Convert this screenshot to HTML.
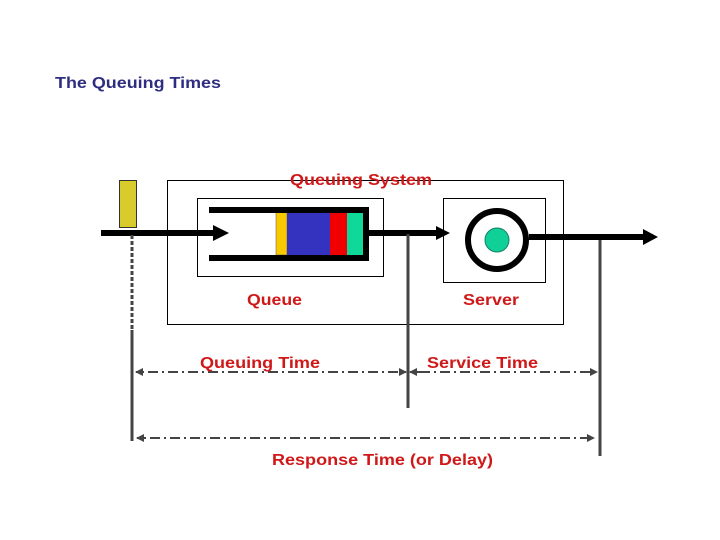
<!DOCTYPE html>
<html><head><meta charset="utf-8"><style>
html,body{margin:0;padding:0;background:#fff;}
svg{display:block;}
text{font-family:"Liberation Sans",Arial,sans-serif;font-weight:bold;}
</style></head><body>
<svg width="720" height="540" viewBox="0 0 720 540" xmlns="http://www.w3.org/2000/svg">
<defs>
<marker id="a" markerWidth="8" markerHeight="8" refX="7" refY="4" orient="auto" markerUnits="userSpaceOnUse"><path d="M0,0 L8,4 L0,8 Z" fill="#444"/></marker>
</defs>
<text x="55" y="88" font-size="16" fill="#2e2e80" textLength="166" lengthAdjust="spacingAndGlyphs">The Queuing Times</text>
<!-- outer box -->
<rect x="167.5" y="180.5" width="396" height="144" fill="none" stroke="#000" stroke-width="1"/>
<text x="290" y="185" font-size="16" fill="#d01818" textLength="142" lengthAdjust="spacingAndGlyphs">Queuing System</text>
<!-- queue box -->
<rect x="197.5" y="198.5" width="186" height="78" fill="none" stroke="#000"/>
<rect x="276" y="212" width="11" height="43" fill="#f8c800" stroke="#555" stroke-width="0.5"/>
<rect x="287" y="212" width="43" height="43" fill="#3333c0"/>
<rect x="330" y="212" width="17" height="43" fill="#f00000"/>
<rect x="347" y="212" width="16" height="43" fill="#10d898"/>
<path d="M209 210 H366 V258 H209" fill="none" stroke="#000" stroke-width="6"/>
<!-- server box -->
<rect x="443.5" y="198.5" width="102" height="84" fill="none" stroke="#000"/>
<circle cx="497" cy="240" r="29" fill="none" stroke="#000" stroke-width="6"/>
<circle cx="497" cy="240" r="12" fill="#10d098" stroke="#108060" stroke-width="1"/>
<!-- customer -->
<rect x="119.5" y="180.5" width="17" height="47" fill="#d8cc2c" stroke="#333"/>
<!-- main arrows -->
<line x1="101" y1="233" x2="215" y2="233" stroke="#000" stroke-width="6"/>
<path d="M213 225 L229 233 L213 241 Z" fill="#000"/>
<line x1="369" y1="233" x2="438" y2="233" stroke="#000" stroke-width="6"/>
<path d="M436 226 L450 233 L436 240 Z" fill="#000"/>
<line x1="529" y1="237" x2="645" y2="237" stroke="#000" stroke-width="6"/>
<path d="M643 229 L658 237 L643 245 Z" fill="#000"/>
<!-- verticals -->
<line x1="132" y1="235" x2="132" y2="330" stroke="#444" stroke-width="3" stroke-dasharray="4,2"/>
<line x1="132" y1="330" x2="132" y2="441" stroke="#444" stroke-width="3"/>
<line x1="408" y1="234" x2="408" y2="408" stroke="#444" stroke-width="3"/>
<line x1="600" y1="240" x2="600" y2="456" stroke="#444" stroke-width="3"/>
<!-- dash-dot -->
<g stroke="#444" stroke-width="2" stroke-dasharray="10,4,2,4" fill="none">
<line x1="398" y1="372" x2="136" y2="372" marker-end="url(#a)"/>
<line x1="400" y1="372" x2="406" y2="372" marker-end="url(#a)"/>
<line x1="420" y1="372" x2="410" y2="372" marker-end="url(#a)"/>
<line x1="420" y1="372" x2="597" y2="372" marker-end="url(#a)"/>
<line x1="360" y1="438" x2="137" y2="438" marker-end="url(#a)"/>
<line x1="360" y1="438" x2="594" y2="438" marker-end="url(#a)"/>
</g>
<text x="247" y="305" font-size="16" fill="#d01818" textLength="55" lengthAdjust="spacingAndGlyphs">Queue</text>
<text x="463" y="305" font-size="16" fill="#d01818" textLength="56" lengthAdjust="spacingAndGlyphs">Server</text>
<text x="200" y="368" font-size="16" fill="#d01818" textLength="120" lengthAdjust="spacingAndGlyphs">Queuing Time</text>
<text x="427" y="368" font-size="16" fill="#d01818" textLength="111" lengthAdjust="spacingAndGlyphs">Service Time</text>
<text x="272" y="465" font-size="16" fill="#d01818" textLength="221" lengthAdjust="spacingAndGlyphs">Response Time (or Delay)</text>
</svg>
</body></html>
